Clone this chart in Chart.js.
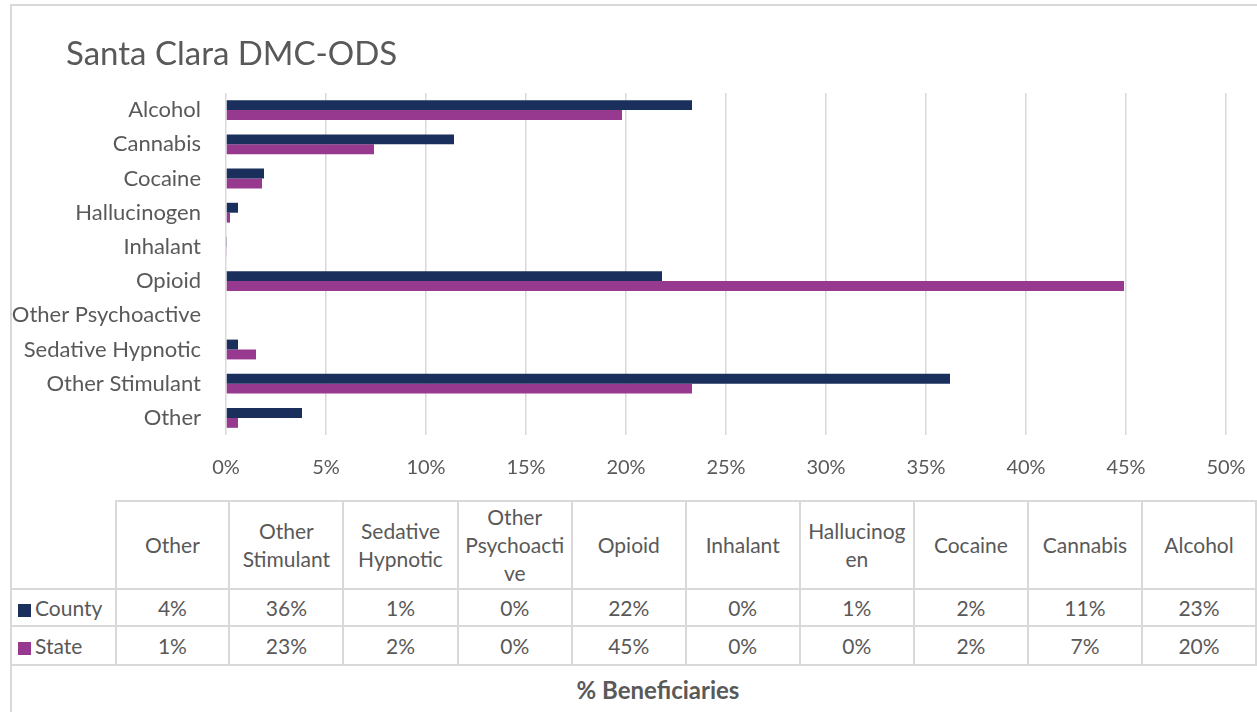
<!DOCTYPE html>
<html>
<head>
<meta charset="utf-8">
<title>Santa Clara DMC-ODS</title>
<script src="https://cdn.jsdelivr.net/npm/chart.js@4"></script>
<style>
  body { margin: 0; background: #fff; width: 1257px; height: 712px; overflow: hidden; position: relative;
         font-family: Lato, "Open Sans", sans-serif; color: #595959; }
  #frame { position: absolute; left: 10px; top: 4px; width: 1320px; height: 800px; border: 2px solid #d9d9d9; }
  #chart { position: absolute; left: 0; top: 0; }
  #title { position: absolute; left: 66px; top: 32px; font-size: 33px; line-height: 40px; color: #595959; }
  #dataTable { position: absolute; left: 10px; top: 500px; border-collapse: collapse; table-layout: fixed; font-size: 21px; }
  #dataTable td { border: 2px solid #d9d9d9; text-align: center; padding: 0; }
  #dataTable tr.head td { height: 86px; white-space: pre-line; line-height: 28px; }
  #dataTable tr.head td.blank { border-top: none; border-left: none; }
  #dataTable tr.county td { height: 35px; }
  #dataTable tr.state td { height: 37px; }
  #dataTable td.key { text-align: left; padding-left: 6px; }
  .swatch { display: inline-block; width: 13px; height: 13px; margin-right: 4px; vertical-align: -1px; }
  #axisTitle { position: absolute; left: 480px; width: 356px; top: 675px; text-align: center; font-weight: bold; font-size: 24px; }
</style>
</head>
<body>
<div id="frame"></div>
<canvas id="chart" width="1257" height="490"></canvas>
<div id="title">Santa Clara DMC-ODS</div>
<table id="dataTable"></table>
<div id="axisTitle">% Beneficiaries</div>
<script>
// categories in data-table order (first one is drawn at the bottom of the bars)
const categories = ['Other', 'Other Stimulant', 'Sedative Hypnotic', 'Other Psychoactive', 'Opioid',
                    'Inhalant', 'Hallucinogen', 'Cocaine', 'Cannabis', 'Alcohol'];
// header text as it wraps inside the table cells
const tableHeaders = ['Other', 'Other\nStimulant', 'Sedative\nHypnotic', 'Other\nPsychoacti\nve', 'Opioid',
                      'Inhalant', 'Hallucinog\nen', 'Cocaine', 'Cannabis', 'Alcohol'];
// % of beneficiaries
const countyValues = [3.8, 36.2, 0.6, 0, 21.8, 0.05, 0.6, 1.9, 11.4, 23.3];
const stateValues = [0.6, 23.3, 1.5, 0, 44.9, 0.03, 0.2, 1.8, 7.4, 19.8];
const xTicks = [0, 5, 10, 15, 20, 25, 30, 35, 40, 45, 50];

const countyColor = '#1b2f5c';
const stateColor = '#973a8f';
const textColor = '#595959';
const fontFamily = 'Lato, "Open Sans", sans-serif';

// build the data table under the chart
function buildTable() {
    const table = document.getElementById('dataTable');
    let html = '<colgroup><col style="width:105px">';
    categories.forEach(() => { html += '<col style="width:114.5px">'; });
    html += '</colgroup>';
    html += '<tr class="head"><td class="blank"></td>';
    tableHeaders.forEach(h => { html += '<td>' + h + '</td>'; });
    html += '</tr>';
    const rows = [
        { name: 'County', cls: 'county', color: countyColor, values: countyValues },
        { name: 'State', cls: 'state', color: stateColor, values: stateValues }
    ];
    rows.forEach(r => {
        html += '<tr class="' + r.cls + '"><td class="key"><span class="swatch" style="background:' + r.color + '"></span>' + r.name + '</td>';
        r.values.forEach(v => { html += '<td>' + Math.round(v) + '%</td>'; });
        html += '</tr>';
    });
    table.innerHTML = html;
}

buildTable();

// bar chart lists Alcohol first at the top
const chartLabels = categories.slice().reverse();

new Chart(document.getElementById('chart'), {
    type: 'bar',
    data: {
        labels: chartLabels,
        datasets: [{
            label: 'County',
            data: countyValues.slice().reverse(),
            backgroundColor: countyColor,
            categoryPercentage: 0.58,
            barPercentage: 1.0
        }, {
            label: 'State',
            data: stateValues.slice().reverse(),
            backgroundColor: stateColor,
            categoryPercentage: 0.58,
            barPercentage: 1.0
        }]
    },
    options: {
        indexAxis: 'y',
        responsive: false,
        animation: false,
        layout: {
            padding: { left: 8, right: 31, top: 93, bottom: 11 }
        },
        scales: {
            x: {
                min: 0,
                max: 50,
                afterBuildTicks: function(scale) {
                    scale.ticks = xTicks.map(v => ({ value: v }));
                },
                afterFit: function(scale) {
                    // fixed height, and keep the outer labels from shrinking the plot
                    scale.height = 44;
                    scale.paddingLeft = 0;
                    scale.paddingRight = 0;
                },
                grid: { color: '#d9d9d9', lineWidth: 1.5, drawTicks: false },
                border: { display: false },
                ticks: {
                    padding: 21,
                    color: textColor,
                    font: { family: fontFamily, size: 20 },
                    callback: function(value) {
                        return value + '%';
                    }
                }
            },
            y: {
                afterFit: function(scale) {
                    scale.width = 218;
                },
                grid: { display: false, drawTicks: false },
                border: { display: false },
                ticks: {
                    padding: 25,
                    color: textColor,
                    font: { family: fontFamily, size: 22 }
                }
            }
        },
        plugins: {
            legend: { display: false },
            tooltip: { enabled: false }
        }
    }
});
</script>
</body>
</html>
